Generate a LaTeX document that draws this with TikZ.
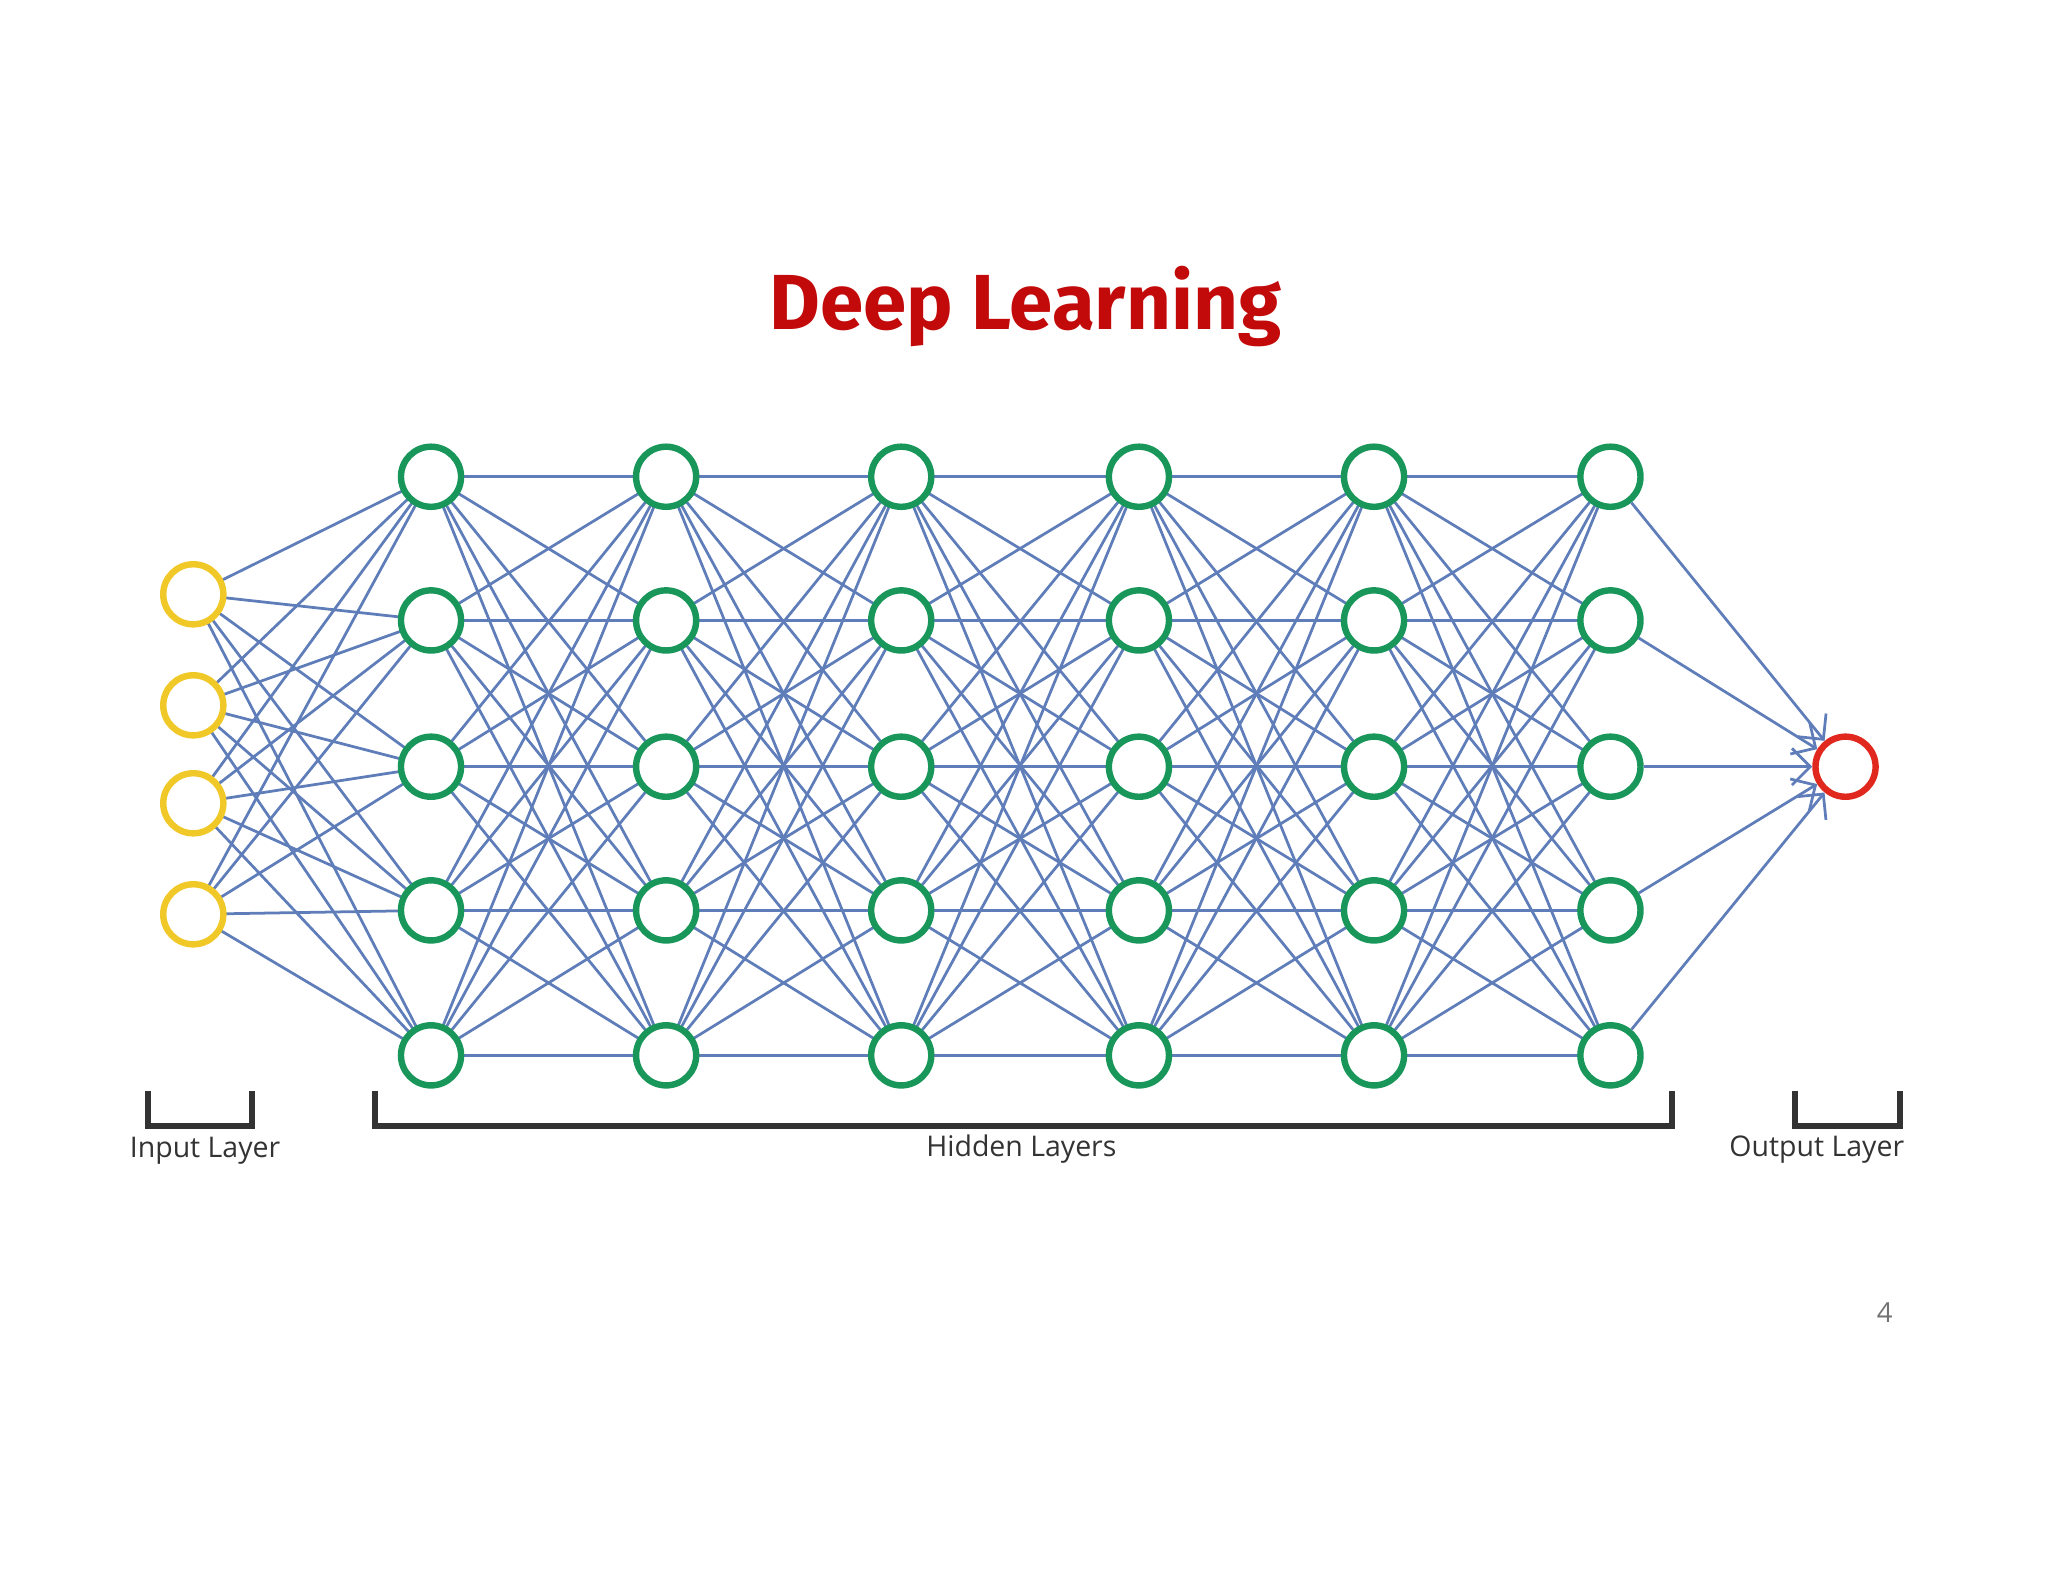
\documentclass[tikz,border=0pt]{standalone}
\usepackage{fontspec}
\setsansfont{Open Sans}
\newfontfamily\titlefont{Fira Sans}
\usetikzlibrary{arrows.meta}
\definecolor{linkblue}{RGB}{95,125,185}
\definecolor{nodegreen}{RGB}{25,150,90}
\definecolor{nodeyellow}{RGB}{240,200,40}
\definecolor{nodered}{RGB}{225,40,30}
\definecolor{titlered}{RGB}{195,10,10}
\begin{document}
\begin{tikzpicture}[x=0.01cm,y=-0.01cm]
\tikzstyle{input}=[circle,draw=nodeyellow,line width=1.4pt,fill=white,minimum size=0.46cm,inner sep=0pt]
\tikzstyle{hidden}=[circle,draw=nodegreen,line width=1.4pt,fill=white,minimum size=0.46cm,inner sep=0pt]
\tikzstyle{output}=[circle,draw=nodered,line width=1.4pt,fill=white,minimum size=0.46cm,inner sep=0pt]
\tikzstyle{link}=[draw=linkblue,line width=0.6pt]
\tikzstyle{bracket}=[draw=black!80,line width=1.3pt]
\tikzstyle{caption}=[font=\sffamily\fontsize{6.2}{7}\selectfont,text=black!80]

\useasboundingbox (0,0) rectangle (1568,1211);

%title.
\node[font=\titlefont\bfseries\fontsize{17}{20}\selectfont,text=titlered] (title) at (785,235) {Deep Learning};

%links.
\foreach \i/\yi in {1/455,2/540,3/615,4/700}
  \foreach \r/\yr in {1/365,2/475,3/587,4/697,5/808}
    \draw[link] (148,\yi) -- (330,\yr);
\foreach \xa/\xb in {330/510,510/690,690/872,872/1052,1052/1233}
  \foreach \ya in {365,475,587,697,808}
    \foreach \yb in {365,475,587,697,808}
      \draw[link] (\xa,\ya) -- (\xb,\yb);

%nodes.
\foreach \i/\yi in {1/455,2/540,3/615,4/700}
  \node[input] (in\i) at (148,\yi) {};
\foreach \c/\xc in {1/330,2/510,3/690,4/872,5/1052,6/1233}
  \foreach \r/\yr in {1/365,2/475,3/587,4/697,5/808}
    \node[hidden] (h\c\r) at (\xc,\yr) {};
\node[output] (out) at (1413,587) {};
\foreach \r in {1,...,5}
  \draw[link,-{Straight Barb[length=4pt]}] (h6\r) -- (out);

%brackets.
\draw[bracket] (113,835) -- (113,862) -- (193,862) -- (193,835);
\draw[bracket] (287,835) -- (287,862) -- (1280,862) -- (1280,835);
\draw[bracket] (1374,835) -- (1374,862) -- (1455,862) -- (1455,835);
\node[caption] (input_label) at (157,881) {Input Layer};
\node[caption] (hidden_label) at (782,880) {Hidden Layers};
\node[caption] (output_label) at (1391,880) {Output Layer};

\node[font=\sffamily\fontsize{6}{7}\selectfont,text=black!55] (page) at (1443,1005) {4};
\end{tikzpicture}
\end{document}
